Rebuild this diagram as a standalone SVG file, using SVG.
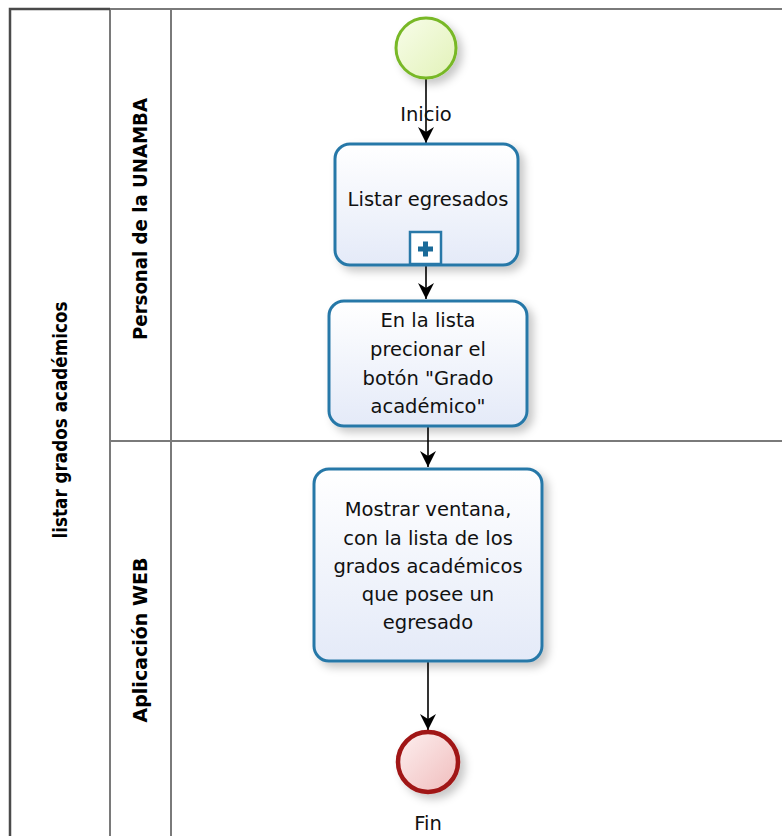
<svg xmlns="http://www.w3.org/2000/svg" width="782" height="836" viewBox="0 0 782 836">
<style>
.lane{stroke:#7a7a7a;stroke-width:2;fill:none}
.pool{stroke:#4a4a4a;stroke-width:2.5;fill:none}
.task{fill:url(#tg);stroke:#2878a8;stroke-width:3}
.lbl{font-family:"DejaVu Sans","Open Sans",sans-serif;font-size:19.5px;fill:#111;text-anchor:middle}
.hdr{font-family:"DejaVu Sans","Open Sans",sans-serif;font-size:19px;font-weight:bold;fill:#000;text-anchor:middle}
.conn{stroke:#000;stroke-width:1.6;fill:none;marker-end:url(#arr)}
</style>
<defs>
<linearGradient id="tg" x1="0" y1="0" x2="0" y2="1"><stop offset="0" stop-color="#ffffff"/><stop offset="1" stop-color="#e4eaf8"/></linearGradient>
<linearGradient id="sg" x1="0" y1="0" x2="1" y2="1"><stop offset="0" stop-color="#f8fdea"/><stop offset="1" stop-color="#e2f2b8"/></linearGradient>
<linearGradient id="eg" x1="0" y1="0" x2="1" y2="1"><stop offset="0" stop-color="#fdf0f0"/><stop offset="1" stop-color="#f0bcbc"/></linearGradient>
<filter id="sh" x="-20%" y="-20%" width="150%" height="150%"><feDropShadow dx="5" dy="5" stdDeviation="4" flood-color="#000" flood-opacity="0.22"/></filter>
<marker id="arr" markerUnits="userSpaceOnUse" markerWidth="18" markerHeight="18" refX="16" refY="8" orient="auto"><path d="M0,0 L16,8 L0,16 L5,8 z" fill="#000"/></marker>
</defs>
<rect width="782" height="836" fill="#fff"/>
<g id="pool">
<line class="lane" x1="110" y1="9" x2="782" y2="9"/>
<line class="lane" x1="110" y1="9" x2="110" y2="836"/>
<line class="lane" x1="171" y1="9" x2="171" y2="836"/>
<line class="lane" x1="110" y1="441" x2="782" y2="441"/>
<path class="pool" d="M10,836 L10,9 L110,9"/>
<text class="hdr" transform="translate(67,420) rotate(-90)" textLength="237" lengthAdjust="spacingAndGlyphs">listar grados académicos</text>
</g>
<g id="lane-personal">
<text class="hdr" transform="translate(147,219) rotate(-90)" textLength="242" lengthAdjust="spacingAndGlyphs">Personal de la UNAMBA</text>
</g>
<g id="lane-web">
<text class="hdr" transform="translate(147,640) rotate(-90)" textLength="165" lengthAdjust="spacingAndGlyphs">Aplicación WEB</text>
</g>
<g id="connectors">
<line class="conn" x1="426" y1="79" x2="426" y2="143"/>
<line class="conn" x1="426" y1="266" x2="426" y2="299"/>
<line class="conn" x1="428" y1="427" x2="428" y2="467"/>
<line class="conn" x1="428" y1="662" x2="428" y2="730"/>
</g>
<g id="start">
<circle cx="426" cy="48" r="30" fill="url(#sg)" stroke="#78b828" stroke-width="3" filter="url(#sh)"/>
<text class="lbl" x="426" y="121">Inicio</text>
</g>
<g id="task-listar">
<rect class="task" x="335" y="144" width="183" height="121" rx="15" filter="url(#sh)"/>
<text class="lbl" x="428" y="206">Listar egresados</text>
<rect x="410" y="232" width="31" height="32" fill="#fff" stroke="#2878a8" stroke-width="2.5"/>
<path d="M418,249 h15 M425.5,241.5 v15" stroke="#1a6a98" stroke-width="5"/>
</g>
<g id="task-precionar">
<rect class="task" x="329" y="301" width="198" height="125" rx="15" filter="url(#sh)"/>
<text class="lbl" x="428" y="327">En la lista</text>
<text class="lbl" x="428" y="356">precionar el</text>
<text class="lbl" x="428" y="385">botón "Grado</text>
<text class="lbl" x="428" y="413">académico"</text>
</g>
<g id="task-mostrar">
<rect class="task" x="314" y="469" width="228" height="192" rx="15" filter="url(#sh)"/>
<text class="lbl" x="428" y="516">Mostrar ventana,</text>
<text class="lbl" x="428" y="545">con la lista de los</text>
<text class="lbl" x="428" y="573">grados académicos</text>
<text class="lbl" x="428" y="601">que posee un</text>
<text class="lbl" x="428" y="629">egresado</text>
</g>
<g id="end">
<circle cx="428" cy="762" r="30" fill="url(#eg)" stroke="#a01414" stroke-width="4.5" filter="url(#sh)"/>
<text class="lbl" x="428" y="830">Fin</text>
</g>
</svg>
